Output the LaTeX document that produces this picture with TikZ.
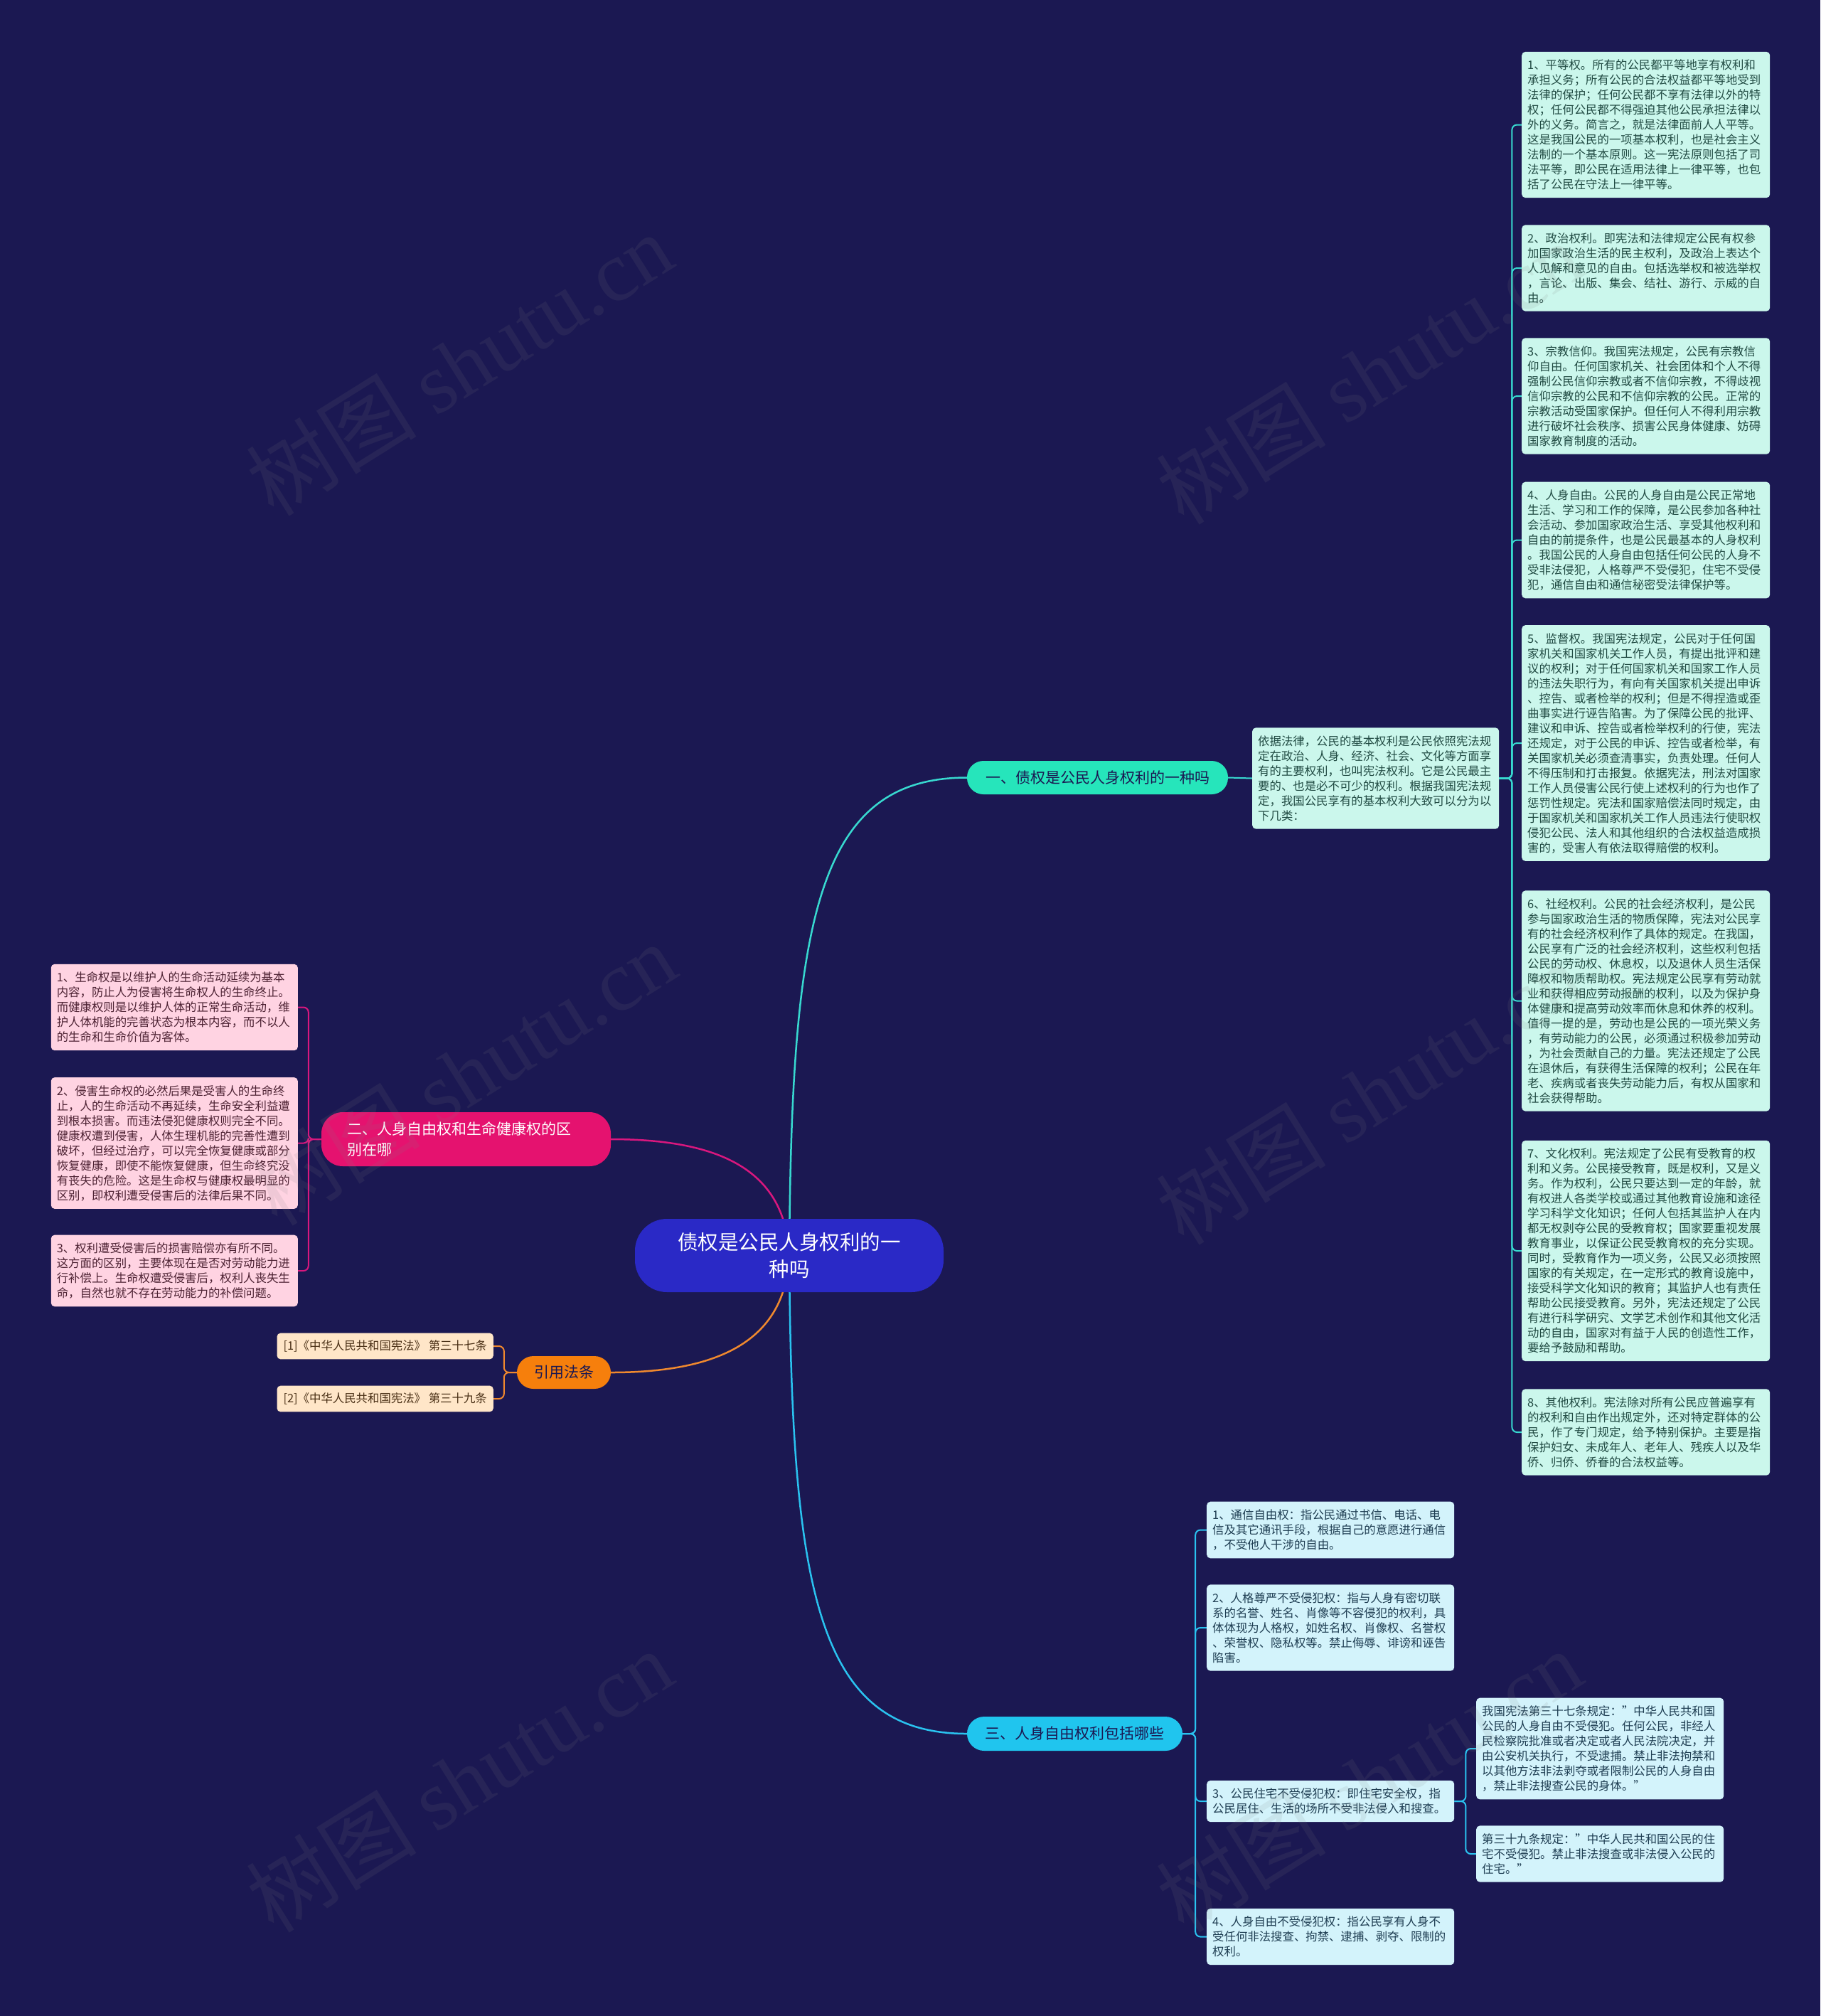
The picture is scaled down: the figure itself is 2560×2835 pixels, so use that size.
\documentclass[tikz,border=0pt]{standalone}
\usepackage{fontspec}
\usetikzlibrary{backgrounds}
\setmainfont{Noto Sans CJK SC}
\newfontfamily\wmlatin{Liberation Serif}
\definecolor{bgc}{HTML}{1B1852}
\definecolor{cenfill}{HTML}{2A29C6}
\definecolor{bronefill}{HTML}{26E5BB}
\definecolor{brtwofill}{HTML}{E5126F}
\definecolor{brthreefill}{HTML}{F67F0C}
\definecolor{brfourfill}{HTML}{20C5EE}
\definecolor{mintfill}{HTML}{CBF7EC}
\definecolor{minttext}{HTML}{204A42}
\definecolor{pinkfill}{HTML}{FFD3E2}
\definecolor{pinktext}{HTML}{4D2233}
\definecolor{peachfill}{HTML}{FFE6C8}
\definecolor{peachtext}{HTML}{4A3016}
\definecolor{bluefill}{HTML}{D3F3FB}
\definecolor{bluetext}{HTML}{1E3D52}
\definecolor{lineone}{HTML}{38D9D0}
\definecolor{linetwo}{HTML}{D9177E}
\definecolor{linethree}{HTML}{F0892E}
\definecolor{linefour}{HTML}{2AC3F0}
\begin{document}
\begin{tikzpicture}[x=1pt,y=-1pt,
  mintbox/.style={fill=mintfill,text=minttext,rounded corners=5pt,inner xsep=8pt,inner ysep=11pt,align=left,text width=333pt,font=\fontsize{16.4}{21}\selectfont},
  pinkbox/.style={fill=pinkfill,text=pinktext,rounded corners=5pt,inner xsep=8pt,inner ysep=11pt,align=left,text width=331pt,font=\fontsize{16.4}{21}\selectfont},
  bluebox/.style={fill=bluefill,text=bluetext,rounded corners=5pt,inner xsep=8pt,inner ysep=11pt,align=left,text width=332pt,font=\fontsize{16.4}{21}\selectfont},
  citebox/.style={fill=peachfill,text=peachtext,rounded corners=5pt,inner xsep=9pt,inner ysep=10pt,font=\fontsize{16.4}{20}\selectfont},
  mainline/.style={line width=2.5pt},
  subline/.style={line width=2pt,rounded corners=7pt},
  wm/.style={text=gray,opacity=0.12,font=\fontsize{120}{130}\selectfont,rotate=32}
]
\useasboundingbox (0,0) rectangle (2560,2835);

% central node
\node[fill=cenfill,text=white,rounded corners=45pt,minimum width=434pt,minimum height=103pt,align=center,font=\fontsize{28.5}{38}\selectfont] (cen) at (1110,1765.5) {债权是公民人身权利的一\\种吗};

% branch nodes
\node[fill=bronefill,text=bgc,rounded corners=23pt,minimum width=367pt,minimum height=47pt,inner xsep=10pt,font=\fontsize{21}{26}\selectfont] (brone) at (1543.5,1093.5) {一、债权是公民人身权利的一种吗};
\node[fill=brtwofill,text=white,rounded corners=30pt,minimum height=76pt,inner xsep=36pt,text width=335pt,align=left,font=\fontsize{21}{29}\selectfont] (brtwo) at (655.5,1602) {二、人身自由权和生命健康权的区\\别在哪};
\node[fill=brthreefill,text=bgc,rounded corners=23pt,minimum width=132pt,minimum height=46pt,inner xsep=10pt,font=\fontsize{21}{26}\selectfont] (brthree) at (793,1930) {引用法条};
\node[fill=brfourfill,text=bgc,rounded corners=24pt,minimum width=303pt,minimum height=48pt,inner xsep=10pt,font=\fontsize{21}{26}\selectfont] (brfour) at (1511.5,2438) {三、人身自由权利包括哪些};

% intro and right column
\node[mintbox,text width=331pt,anchor=west] (intro) at (1761,1094.5) {依据法律，公民的基本权利是公民依照宪法规\\定在政治、人身、经济、社会、文化等方面享\\有的主要权利，也叫宪法权利。它是公民最主\\要的、也是必不可少的权利。根据我国宪法规\\定，我国公民享有的基本权利大致可以分为以\\下几类：};

\node[mintbox,anchor=west] (ra) at (2140,175.5) {1、平等权。所有的公民都平等地享有权利和\\承担义务；所有公民的合法权益都平等地受到\\法律的保护；任何公民都不享有法律以外的特\\权；任何公民都不得强迫其他公民承担法律以\\外的义务。简言之，就是法律面前人人平等。\\这是我国公民的一项基本权利，也是社会主义\\法制的一个基本原则。这一宪法原则包括了司\\法平等，即公民在适用法律上一律平等，也包\\括了公民在守法上一律平等。};
\node[mintbox,anchor=west] (rb) at (2140,377) {2、政治权利。即宪法和法律规定公民有权参\\加国家政治生活的民主权利，及政治上表达个\\人见解和意见的自由。包括选举权和被选举权\\，言论、出版、集会、结社、游行、示威的自\\由。};
\node[mintbox,anchor=west] (rc) at (2140,557) {3、宗教信仰。我国宪法规定，公民有宗教信\\仰自由。任何国家机关、社会团体和个人不得\\强制公民信仰宗教或者不信仰宗教，不得歧视\\信仰宗教的公民和不信仰宗教的公民。正常的\\宗教活动受国家保护。但任何人不得利用宗教\\进行破坏社会秩序、损害公民身体健康、妨碍\\国家教育制度的活动。};
\node[mintbox,anchor=west] (rd) at (2140,759.5) {4、人身自由。公民的人身自由是公民正常地\\生活、学习和工作的保障，是公民参加各种社\\会活动、参加国家政治生活、享受其他权利和\\自由的前提条件，也是公民最基本的人身权利\\。我国公民的人身自由包括任何公民的人身不\\受非法侵犯，人格尊严不受侵犯，住宅不受侵\\犯，通信自由和通信秘密受法律保护等。};
\node[mintbox,anchor=west] (re) at (2140,1045) {5、监督权。我国宪法规定，公民对于任何国\\家机关和国家机关工作人员，有提出批评和建\\议的权利；对于任何国家机关和国家工作人员\\的违法失职行为，有向有关国家机关提出申诉\\、控告、或者检举的权利；但是不得捏造或歪\\曲事实进行诬告陷害。为了保障公民的批评、\\建议和申诉、控告或者检举权利的行使，宪法\\还规定，对于公民的申诉、控告或者检举，有\\关国家机关必须查清事实，负责处理。任何人\\不得压制和打击报复。依据宪法，刑法对国家\\工作人员侵害公民行使上述权利的行为也作了\\惩罚性规定。宪法和国家赔偿法同时规定，由\\于国家机关和国家机关工作人员违法行使职权\\侵犯公民、法人和其他组织的合法权益造成损\\害的，受害人有依法取得赔偿的权利。};
\node[mintbox,anchor=west] (rf) at (2140,1407.5) {6、社经权利。公民的社会经济权利，是公民\\参与国家政治生活的物质保障，宪法对公民享\\有的社会经济权利作了具体的规定。在我国，\\公民享有广泛的社会经济权利，这些权利包括\\公民的劳动权、休息权，以及退休人员生活保\\障权和物质帮助权。宪法规定公民享有劳动就\\业和获得相应劳动报酬的权利，以及为保护身\\体健康和提高劳动效率而休息和休养的权利。\\值得一提的是，劳动也是公民的一项光荣义务\\，有劳动能力的公民，必须通过积极参加劳动\\，为社会贡献自己的力量。宪法还规定了公民\\在退休后，有获得生活保障的权利；公民在年\\老、疾病或者丧失劳动能力后，有权从国家和\\社会获得帮助。};
\node[mintbox,anchor=west] (rg) at (2140,1759) {7、文化权利。宪法规定了公民有受教育的权\\利和义务。公民接受教育，既是权利，又是义\\务。作为权利，公民只要达到一定的年龄，就\\有权进人各类学校或通过其他教育设施和途径\\学习科学文化知识；任何人包括其监护人在内\\都无权剥夺公民的受教育权；国家要重视发展\\教育事业，以保证公民受教育权的充分实现。\\同时，受教育作为一项义务，公民又必须按照\\国家的有关规定，在一定形式的教育设施中，\\接受科学文化知识的教育；其监护人也有责任\\帮助公民接受教育。另外，宪法还规定了公民\\有进行科学研究、文学艺术创作和其他文化活\\动的自由，国家对有益于人民的创造性工作，\\要给予鼓励和帮助。};
\node[mintbox,anchor=west] (rh) at (2140,2014) {8、其他权利。宪法除对所有公民应普遍享有\\的权利和自由作出规定外，还对特定群体的公\\民，作了专门规定，给予特别保护。主要是指\\保护妇女、未成年人、老年人、残疾人以及华\\侨、归侨、侨眷的合法权益等。};

% left column
\node[pinkbox,anchor=east] (la) at (419,1416.5) {1、生命权是以维护人的生命活动延续为基本\\内容，防止人为侵害将生命权人的生命终止。\\而健康权则是以维护人体的正常生命活动，维\\护人体机能的完善状态为根本内容，而不以人\\的生命和生命价值为客体。};
\node[pinkbox,anchor=east] (lb) at (419,1607.5) {2、侵害生命权的必然后果是受害人的生命终\\止，人的生命活动不再延续，生命安全利益遭\\到根本损害。而违法侵犯健康权则完全不同。\\健康权遭到侵害，人体生理机能的完善性遭到\\破坏，但经过治疗，可以完全恢复健康或部分\\恢复健康，即使不能恢复健康，但生命终究没\\有丧失的危险。这是生命权与健康权最明显的\\区别，即权利遭受侵害后的法律后果不同。};
\node[pinkbox,anchor=east] (lc) at (419,1787) {3、权利遭受侵害后的损害赔偿亦有所不同。\\这方面的区别，主要体现在是否对劳动能力进\\行补偿上。生命权遭受侵害后，权利人丧失生\\命，自然也就不存在劳动能力的补偿问题。};

% citations
\node[citebox,anchor=east] (ca) at (694,1893) {[1]《中华人民共和国宪法》 第三十七条};
\node[citebox,anchor=east] (cb) at (694,1967) {[2]《中华人民共和国宪法》 第三十九条};

% bottom column
\node[bluebox,anchor=west] (ba) at (1697,2151.5) {1、通信自由权：指公民通过书信、电话、电\\信及其它通讯手段，根据自己的意愿进行通信\\，不受他人干涉的自由。};
\node[bluebox,anchor=west] (bb) at (1697,2289) {2、人格尊严不受侵犯权：指与人身有密切联\\系的名誉、姓名、肖像等不容侵犯的权利，具\\体体现为人格权，如姓名权、肖像权、名誉权\\、荣誉权、隐私权等。禁止侮辱、诽谤和诬告\\陷害。};
\node[bluebox,anchor=west] (bc) at (1697,2533) {3、公民住宅不受侵犯权：即住宅安全权，指\\公民居住、生活的场所不受非法侵入和搜查。};
\node[bluebox,anchor=west] (bd) at (1697,2723.5) {4、人身自由不受侵犯权：指公民享有人身不\\受任何非法搜查、拘禁、逮捕、剥夺、限制的\\权利。};
\node[bluebox,anchor=west] (sa) at (2076,2459) {我国宪法第三十七条规定："中华人民共和国\\公民的人身自由不受侵犯。任何公民，非经人\\民检察院批准或者决定或者人民法院决定，并\\由公安机关执行，不受逮捕。禁止非法拘禁和\\以其他方法非法剥夺或者限制公民的人身自由\\，禁止非法搜查公民的身体。"};
\node[bluebox,anchor=west] (sb) at (2076,2607) {第三十九条规定："中华人民共和国公民的住\\宅不受侵犯。禁止非法搜查或非法侵入公民的\\住宅。"};

% background and connectors, behind the nodes
\begin{pgfonlayer}{background}
\fill[bgc] (0,0) rectangle (2560,2835);
\draw[mainline,lineone] (cen.center) .. controls (1113,1290) and (1150,1093.5) .. (brone.west);
\draw[mainline,linefour] (cen.center) .. controls (1113,2240) and (1150,2438) .. (brfour.west);
\draw[mainline,linetwo] (brtwo.east) .. controls (1020,1602) and (1105,1650) .. (cen.center);
\draw[mainline,linethree] (brthree.east) .. controls (1020,1930) and (1105,1880) .. (cen.center);
\draw[subline,lineone] (brone.east) -- (intro.west);
\foreach \n in {ra,rb,rc,rd,re,rf,rg,rh}
  \draw[subline,lineone] (intro.east) -- ++(18,0) |- (\n.west);
\foreach \n in {la,lb,lc}
  \draw[subline,linetwo] (brtwo.west) -- ++(-18,0) |- (\n.east);
\foreach \n in {ca,cb}
  \draw[subline,linethree] (brthree.west) -- ++(-18,0) |- (\n.east);
\foreach \n in {ba,bb,bc,bd}
  \draw[subline,linefour] (brfour.east) -- ++(18,0) |- (\n.west);
\foreach \n in {sa,sb}
  \draw[subline,linefour] (bc.east) -- ++(16,0) |- (\n.west);
\end{pgfonlayer}

% watermarks
\node[wm] (wma) at (646,512) {树图 {\wmlatin shutu.cn}};
\node[wm] (wmb) at (1925,524) {树图 {\wmlatin shutu.cn}};
\node[wm] (wmc) at (651,1510) {树图 {\wmlatin shutu.cn}};
\node[wm] (wmd) at (1925,1537) {树图 {\wmlatin shutu.cn}};
\node[wm] (wme) at (646,2504) {树图 {\wmlatin shutu.cn}};
\node[wm] (wmf) at (1925,2504) {树图 {\wmlatin shutu.cn}};

\end{tikzpicture}
\end{document}
